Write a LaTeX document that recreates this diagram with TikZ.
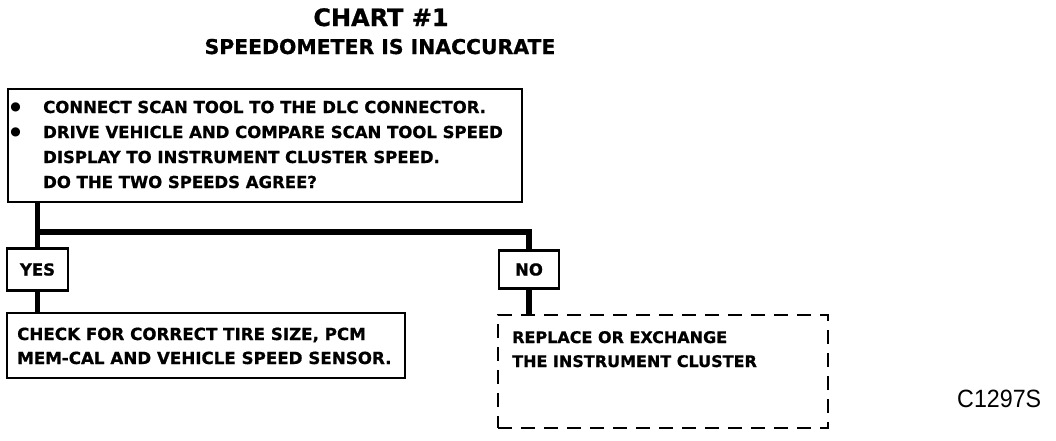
\documentclass[tikz,border=0pt]{standalone}
\usepackage{fontspec}
\setmainfont{DejaVu Sans}[BoldFeatures={FakeBold=0.8}]
\newfontfamily\codefont[FakeStretch=0.93]{Liberation Sans}
\tikzset{
  box/.style={draw, line width=2.5pt, rectangle, inner sep=0pt},
  dbox/.style={draw, line width=2.5pt, dash pattern=on 14pt off 9pt, rectangle, inner sep=0pt},
  conn/.style={line width=5.5pt},
  txt/.style={anchor=base west, inner sep=0pt, font=\bfseries\fontsize{16.5}{16.5}\selectfont},
  bul/.style={anchor=center, inner sep=0pt, font=\fontsize{12}{12}\selectfont},
  lbl/.style={anchor=center, inner sep=0pt, font=\bfseries\fontsize{16.5}{16.5}\selectfont},
}
\begin{document}
\begin{tikzpicture}[x=1pt,y=-1pt]
\useasboundingbox (0,0) rectangle (1056,440);
% titles
\node[anchor=base, inner sep=0pt, font=\bfseries\fontsize{24}{24}\selectfont] (t1) at (381,26) {CHART \#1};
\node[anchor=base, inner sep=0pt, font=\bfseries\fontsize{20.4}{20.4}\selectfont] (t2) at (380,54) {SPEEDOMETER IS INACCURATE};
% top box
\node[box, minimum width=514pt, minimum height=113pt] (q) at (265,145.5) {};
\node[bul] (b1) at (15.5,107.5) {●};
\node[bul] (b2) at (15.5,132.5) {●};
\node[txt] (q1) at (43,113) {CONNECT SCAN TOOL TO THE DLC CONNECTOR.};
\node[txt] (q2) at (43,138) {DRIVE VEHICLE AND COMPARE SCAN TOOL SPEED};
\node[txt] (q3) at (43,163) {DISPLAY TO INSTRUMENT CLUSTER SPEED.};
\node[txt] (q4) at (43,188) {DO THE TWO SPEEDS AGREE?};
% yes / no
\node[box, minimum width=61pt, minimum height=42pt] (yes) at (37.5,269.5) {};
\node[lbl] (yest) at (yes.center) {YES};
\node[box, minimum width=60pt, minimum height=38pt] (no) at (529,269.5) {};
\node[lbl] (not) at (no.center) {NO};
% result boxes
\node[box, minimum width=398pt, minimum height=65pt] (chk) at (206,345.5) {};
\node[txt, font=\bfseries\fontsize{16.7}{16.7}\selectfont] (c1) at (17,340) {CHECK FOR CORRECT TIRE SIZE, PCM};
\node[txt, font=\bfseries\fontsize{16.7}{16.7}\selectfont] (c2) at (17,364) {MEM-CAL AND VEHICLE SPEED SENSOR.};
\node[dbox, minimum width=330pt, minimum height=113pt] (rep) at (663,371.5) {};
\node[txt, font=\bfseries\fontsize{16}{16}\selectfont] (r1) at (512,343) {REPLACE OR EXCHANGE};
\node[txt, font=\bfseries\fontsize{16}{16}\selectfont] (r2) at (512,367) {THE INSTRUMENT CLUSTER};
% connectors
\coordinate (jl) at (37.5,232);
\draw[conn] (q.south -| yes.north) -- (yes.north);
\draw[conn] (jl) -- (jl -| no.north) -- (no.north);
\draw[conn] (yes.south) -- (chk.north -| yes.south);
\draw[conn] (no.south) -- (rep.north -| no.south);
% figure code
\node[anchor=base west, inner sep=0pt, font=\codefont\fontsize{25}{25}\selectfont] (code) at (957,407) {C1297S};
\end{tikzpicture}
\end{document}
